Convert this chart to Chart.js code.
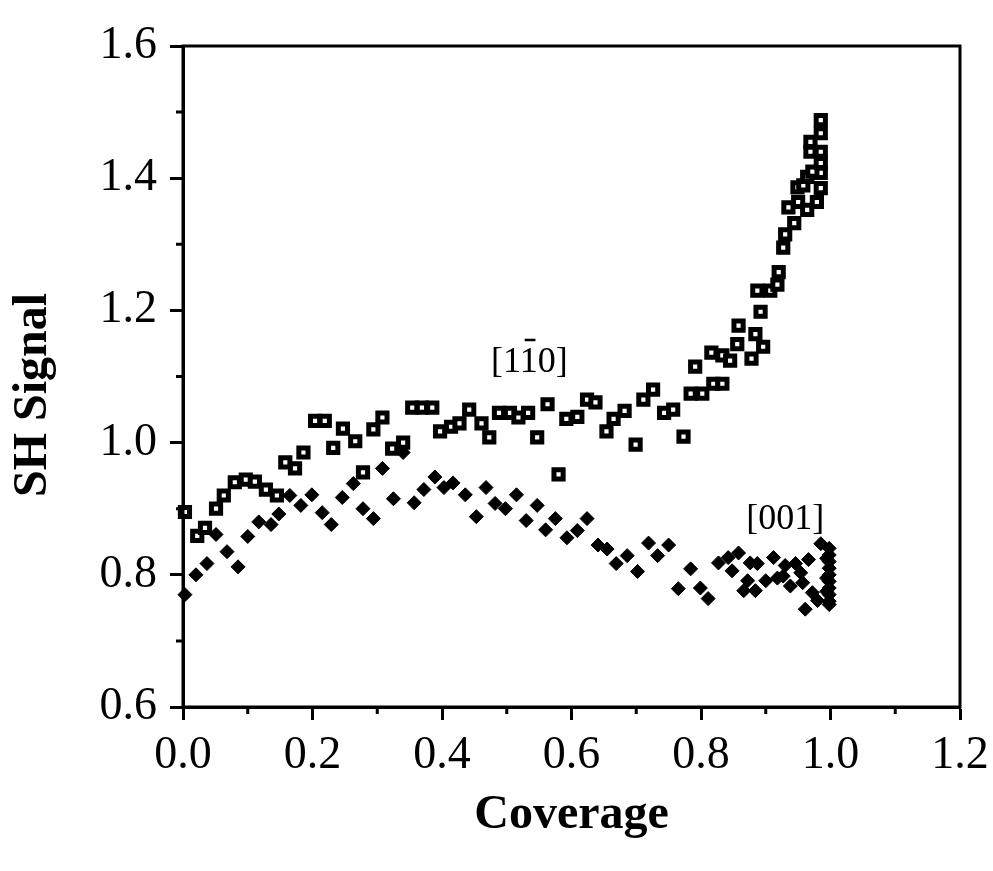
<!DOCTYPE html>
<html>
<head>
<meta charset="utf-8">
<script src="https://cdn.jsdelivr.net/npm/chart.js@4/dist/chart.umd.min.js"></script>
<style>
  html, body { margin: 0; padding: 0; background: #fff; }
  #wrap { width: 993px; height: 871px; }
</style>
</head>
<body>
<div id="wrap"><canvas id="sh-chart" width="993" height="871"></canvas></div>
<script>
// [1-10] direction (open squares)
const sqX = [0.003, 0.022, 0.034, 0.051, 0.063, 0.080, 0.097, 0.111, 0.128, 0.145,
  0.158, 0.173, 0.186, 0.204, 0.219, 0.232, 0.247, 0.266, 0.278, 0.294,
  0.308, 0.323, 0.340, 0.354, 0.369, 0.385, 0.397, 0.414, 0.427, 0.442,
  0.461, 0.473, 0.488, 0.505, 0.518, 0.533, 0.547, 0.563, 0.580, 0.592,
  0.609, 0.624, 0.637, 0.654, 0.665, 0.682, 0.699, 0.711, 0.726, 0.743,
  0.757, 0.773, 0.784, 0.791, 0.802, 0.816, 0.819, 0.833, 0.833, 0.845,
  0.856, 0.858, 0.878, 0.884, 0.896, 0.892, 0.887, 0.907, 0.918, 0.920,
  0.927, 0.930, 0.944, 0.935, 0.950, 0.964, 0.979, 0.949, 0.958, 0.964,
  0.985, 0.985, 0.972, 0.985, 0.969, 0.985, 0.969, 0.985, 0.985];
const sqY = [0.895, 0.859, 0.871, 0.900, 0.920, 0.940, 0.944, 0.941, 0.929, 0.920,
  0.970, 0.961, 0.985, 1.033, 1.033, 0.992, 1.021, 1.002, 0.955, 1.020,
  1.038, 0.991, 1.000, 1.053, 1.053, 1.053, 1.017, 1.024, 1.029, 1.050,
  1.029, 1.008, 1.045, 1.045, 1.038, 1.045, 1.008, 1.058, 0.952, 1.036,
  1.039, 1.065, 1.061, 1.017, 1.036, 1.048, 0.997, 1.065, 1.080, 1.045,
  1.050, 1.009, 1.074, 1.115, 1.074, 1.136, 1.089, 1.089, 1.132, 1.124,
  1.149, 1.177, 1.127, 1.164, 1.145, 1.198, 1.230, 1.230, 1.239, 1.258,
  1.295, 1.315, 1.332, 1.356, 1.364, 1.352, 1.364, 1.386, 1.389, 1.402,
  1.385, 1.408, 1.410, 1.423, 1.440, 1.440, 1.455, 1.468, 1.488];

// [001] direction (filled diamonds)
const dmX = [0.003, 0.020, 0.037, 0.051, 0.068, 0.085, 0.100, 0.117, 0.136, 0.148,
  0.165, 0.182, 0.199, 0.215, 0.229, 0.246, 0.263, 0.278, 0.294, 0.308,
  0.325, 0.340, 0.357, 0.372, 0.389, 0.403, 0.417, 0.436, 0.453, 0.468,
  0.482, 0.498, 0.515, 0.530, 0.547, 0.560, 0.575, 0.593, 0.609, 0.624,
  0.641, 0.655, 0.669, 0.686, 0.702, 0.719, 0.733, 0.750, 0.765, 0.784,
  0.799, 0.811, 0.827, 0.842, 0.858, 0.848, 0.866, 0.876, 0.887, 0.884,
  0.872, 0.900, 0.912, 0.918, 0.927, 0.930, 0.938, 0.946, 0.954, 0.957,
  0.966, 0.972, 0.961, 0.980, 0.985, 0.998, 0.998, 0.998, 0.998, 0.998,
  0.998, 0.998, 0.998, 0.998, 0.998, 0.994, 0.994, 0.994];
const dmY = [0.770, 0.800, 0.817, 0.861, 0.835, 0.812, 0.858, 0.880, 0.876, 0.892,
  0.920, 0.905, 0.921, 0.894, 0.876, 0.917, 0.938, 0.900, 0.885, 0.961,
  0.915, 0.985, 0.909, 0.929, 0.948, 0.932, 0.939, 0.921, 0.888, 0.932,
  0.908, 0.900, 0.921, 0.882, 0.905, 0.868, 0.885, 0.856, 0.867, 0.885,
  0.845, 0.839, 0.817, 0.829, 0.805, 0.848, 0.829, 0.845, 0.779, 0.809,
  0.780, 0.764, 0.818, 0.826, 0.833, 0.806, 0.776, 0.818, 0.817, 0.776,
  0.791, 0.791, 0.826, 0.795, 0.798, 0.814, 0.783, 0.817, 0.803, 0.788,
  0.823, 0.773, 0.748, 0.761, 0.847, 0.840, 0.830, 0.820, 0.810, 0.800,
  0.790, 0.780, 0.770, 0.760, 0.755, 0.825, 0.795, 0.775];

const xTicks = [0, 0.2, 0.4, 0.6, 0.8, 1.0, 1.2];
const yTicks = [0.6, 0.8, 1.0, 1.2, 1.4, 1.6];
const xMinor = [0.1, 0.3, 0.5, 0.7, 0.9, 1.1];
const yMinor = [0.7, 0.9, 1.1, 1.3, 1.5];

const labels = [
  { text: '[110]', bar: 2, x: 0.535, y: 1.125 },
  { text: '[001]', bar: -1, x: 0.93, y: 0.888 }
];
const yTitle = 'SH Signal';

const serif = '"Liberation Serif", "Times New Roman", serif';

// frame, minor ticks, y title and the two text labels
const extras = {
  id: 'extras',
  afterDraw(chart) {
    const c = chart.ctx;
    const a = chart.chartArea;
    const xs = chart.scales.x, ys = chart.scales.y;
    c.save();
    c.strokeStyle = '#000';
    c.lineWidth = 3;
    c.strokeRect(a.left, a.top, a.right - a.left, a.bottom - a.top);
    c.beginPath();
    xMinor.forEach(v => {
      const px = xs.getPixelForValue(v);
      c.moveTo(px, a.bottom);
      c.lineTo(px, a.bottom + 7);
    });
    yMinor.forEach(v => {
      const py = ys.getPixelForValue(v);
      c.moveTo(a.left, py);
      c.lineTo(a.left - 7, py);
    });
    c.stroke();

    c.fillStyle = '#000';

    // y axis title, a bit below the middle as in the original
    c.save();
    c.translate(34, 395);
    c.rotate(-Math.PI / 2);
    c.font = 'bold 48px ' + serif;
    c.textAlign = 'center';
    c.textBaseline = 'middle';
    c.fillText(yTitle, 0, 0);
    c.restore();

    c.font = '36px ' + serif;
    c.textBaseline = 'alphabetic';
    c.textAlign = 'left';
    labels.forEach(l => {
      const w = c.measureText(l.text).width;
      const px = xs.getPixelForValue(l.x) - w / 2;
      const py = ys.getPixelForValue(l.y) + 12;
      c.fillText(l.text, px, py);
      if (l.bar >= 0) {
        const x0 = px + c.measureText(l.text.slice(0, l.bar)).width;
        const cw = c.measureText(l.text[l.bar]).width;
        c.lineWidth = 2.5;
        c.beginPath();
        c.moveTo(x0 + cw * 0.2, py - 32);
        c.lineTo(x0 + cw * 0.8, py - 32);
        c.stroke();
      }
    });
    c.restore();
  }
};

new Chart(document.getElementById('sh-chart'), {
  type: 'scatter',
  data: {
    datasets: [
      {
        label: '[1-10]',
        data: sqX.map((x, i) => ({ x: x, y: sqY[i] })),
        pointStyle: 'rect',
        pointRadius: 6.5,
        pointBackgroundColor: '#fff',
        pointBorderColor: '#000',
        pointBorderWidth: 5
      },
      {
        label: '[001]',
        data: dmX.map((x, i) => ({ x: x, y: dmY[i] })),
        pointStyle: 'rectRot',
        pointRadius: 7,
        pointBackgroundColor: '#000',
        pointBorderColor: '#000',
        pointBorderWidth: 1
      }
    ]
  },
  options: {
    responsive: false,
    animation: false,
    clip: false,
    layout: { padding: { top: 46, right: 33, left: 0, bottom: 0 } },
    plugins: { legend: { display: false }, tooltip: { enabled: false } },
    scales: {
      x: {
        type: 'linear',
        min: 0, max: 1.2,
        afterBuildTicks: s => { s.ticks = xTicks.map(v => ({ value: v })); },
        afterFit: s => { s.height = 164; s.paddingLeft = 0; s.paddingRight = 0; },
        border: { display: true, color: '#000', width: 3 },
        grid: { drawOnChartArea: false, drawTicks: true, tickLength: 13, tickColor: '#000', tickWidth: 3 },
        ticks: {
          color: '#000', padding: 8,
          font: { family: serif, size: 46 },
          callback: v => v.toFixed(1)
        },
        title: {
          display: true, text: 'Coverage', color: '#000',
          font: { family: serif, size: 48, weight: 'bold' },
          padding: { top: 0, bottom: 27 }
        }
      },
      y: {
        type: 'linear',
        min: 0.6, max: 1.6,
        afterBuildTicks: s => { s.ticks = yTicks.map(v => ({ value: v })); },
        afterFit: s => { s.width = 183; s.paddingTop = 0; s.paddingBottom = 0; },
        border: { display: true, color: '#000', width: 3 },
        grid: { drawOnChartArea: false, drawTicks: true, tickLength: 13, tickColor: '#000', tickWidth: 3 },
        ticks: {
          color: '#000', padding: 13,
          font: { family: serif, size: 46 },
          callback: v => v.toFixed(1)
        },
        title: { display: false }
      }
    }
  },
  plugins: [extras]
});
</script>
</body>
</html>
